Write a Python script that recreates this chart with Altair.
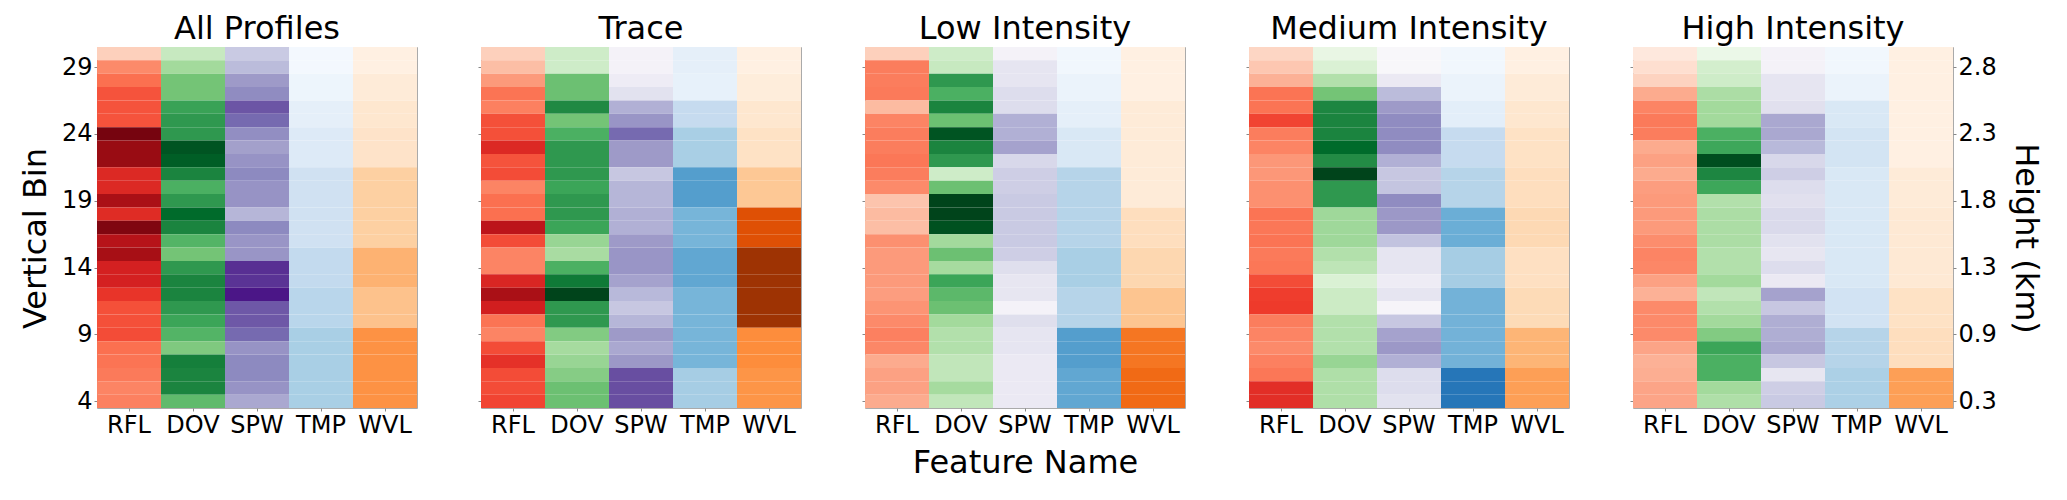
import altair as alt
import pandas as pd

FEATURES = ["RFL", "DOV", "SPW", "TMP", "WVL"]
PANELS = ["All Profiles", "Trace", "Low Intensity", "Medium Intensity", "High Intensity"]
BINS = list(range(30, 3, -1))  # top row (bin 30) to bottom row (bin 4)
Y_TICKS = [4, 9, 14, 19, 24, 29]
HEIGHT_LABELS = ["0.3", "0.9", "1.3", "1.8", "2.3", "2.8"]

# normalised intensities (0..1), listed from bin 30 down to bin 4
ALL_RFL = [0.18, 0.40, 0.48, 0.56, 0.56, 0.56, 0.97, 0.90, 0.90, 0.69, 0.69, 0.86, 0.68, 0.95,
           0.82, 0.87, 0.72, 0.72, 0.65, 0.57, 0.57, 0.58, 0.48, 0.47, 0.45, 0.42, 0.43]
ALL_DOV = [0.25, 0.37, 0.50, 0.50, 0.66, 0.70, 0.70, 0.95, 0.92, 0.78, 0.60, 0.70, 0.88, 0.78,
           0.58, 0.50, 0.70, 0.78, 0.78, 0.70, 0.65, 0.58, 0.47, 0.80, 0.78, 0.78, 0.55]
ALL_SPW = [0.32, 0.38, 0.50, 0.56, 0.74, 0.68, 0.55, 0.48, 0.53, 0.57, 0.53, 0.53, 0.40, 0.57,
           0.52, 0.52, 0.85, 0.84, 0.93, 0.73, 0.73, 0.68, 0.53, 0.57, 0.57, 0.53, 0.45]
ALL_TMP = [0.02, 0.02, 0.05, 0.05, 0.09, 0.09, 0.13, 0.13, 0.13, 0.20, 0.20, 0.20, 0.20, 0.20,
           0.20, 0.26, 0.26, 0.26, 0.29, 0.29, 0.29, 0.34, 0.34, 0.34, 0.34, 0.34, 0.34]
ALL_WVL = [0.04, 0.04, 0.08, 0.08, 0.12, 0.12, 0.14, 0.14, 0.14, 0.25, 0.25, 0.25, 0.25, 0.25,
           0.25, 0.36, 0.36, 0.36, 0.30, 0.30, 0.30, 0.48, 0.48, 0.48, 0.48, 0.48, 0.48]

TRACE_RFL = [0.18, 0.24, 0.35, 0.47, 0.43, 0.57, 0.57, 0.69, 0.56, 0.58, 0.42, 0.48, 0.48, 0.80,
             0.58, 0.42, 0.42, 0.70, 0.86, 0.73, 0.47, 0.42, 0.58, 0.66, 0.58, 0.58, 0.60]
TRACE_DOV = [0.22, 0.22, 0.52, 0.52, 0.76, 0.50, 0.60, 0.70, 0.70, 0.70, 0.65, 0.70, 0.70, 0.65,
             0.40, 0.35, 0.60, 0.82, 1.00, 0.70, 0.70, 0.46, 0.36, 0.40, 0.45, 0.52, 0.52]
TRACE_SPW = [0.08, 0.08, 0.13, 0.20, 0.42, 0.52, 0.68, 0.50, 0.50, 0.33, 0.40, 0.40, 0.42, 0.42,
             0.50, 0.52, 0.52, 0.47, 0.39, 0.33, 0.40, 0.50, 0.45, 0.51, 0.76, 0.76, 0.76]
TRACE_TMP = [0.09, 0.09, 0.08, 0.08, 0.25, 0.25, 0.34, 0.34, 0.34, 0.57, 0.57, 0.57, 0.47, 0.47,
             0.47, 0.53, 0.53, 0.53, 0.47, 0.47, 0.47, 0.47, 0.47, 0.47, 0.35, 0.35, 0.35]
TRACE_WVL = [0.04, 0.04, 0.07, 0.07, 0.12, 0.12, 0.15, 0.15, 0.15, 0.28, 0.28, 0.28, 0.72, 0.72,
             0.72, 0.90, 0.90, 0.90, 0.90, 0.90, 0.90, 0.50, 0.50, 0.50, 0.47, 0.47, 0.47]

LOW_RFL = [0.18, 0.44, 0.44, 0.45, 0.25, 0.42, 0.44, 0.44, 0.46, 0.44, 0.40, 0.22, 0.25, 0.24,
           0.38, 0.35, 0.35, 0.35, 0.34, 0.37, 0.40, 0.43, 0.41, 0.30, 0.33, 0.33, 0.30]
LOW_DOV = [0.22, 0.25, 0.70, 0.60, 0.78, 0.52, 0.95, 0.78, 0.70, 0.22, 0.52, 1.00, 1.00, 0.96,
           0.37, 0.52, 0.36, 0.65, 0.56, 0.52, 0.37, 0.32, 0.32, 0.27, 0.27, 0.36, 0.27]
LOW_SPW = [0.08, 0.18, 0.18, 0.23, 0.23, 0.42, 0.42, 0.47, 0.26, 0.30, 0.30, 0.32, 0.32, 0.32,
           0.32, 0.30, 0.22, 0.17, 0.17, 0.08, 0.22, 0.18, 0.18, 0.15, 0.15, 0.15, 0.15]
LOW_TMP = [0.03, 0.03, 0.06, 0.06, 0.09, 0.09, 0.15, 0.15, 0.15, 0.30, 0.30, 0.30, 0.30, 0.30,
           0.30, 0.34, 0.34, 0.34, 0.30, 0.30, 0.30, 0.57, 0.57, 0.57, 0.53, 0.53, 0.53]
LOW_WVL = [0.04, 0.04, 0.04, 0.04, 0.08, 0.08, 0.08, 0.08, 0.08, 0.08, 0.08, 0.08, 0.17, 0.17,
           0.17, 0.21, 0.21, 0.21, 0.29, 0.29, 0.29, 0.58, 0.58, 0.58, 0.62, 0.62, 0.62]

MED_RFL = [0.16, 0.21, 0.28, 0.47, 0.47, 0.60, 0.44, 0.42, 0.36, 0.36, 0.38, 0.38, 0.47, 0.46,
           0.47, 0.45, 0.46, 0.58, 0.62, 0.63, 0.44, 0.42, 0.40, 0.43, 0.46, 0.67, 0.67]
MED_DOV = [0.10, 0.17, 0.32, 0.50, 0.77, 0.78, 0.78, 0.88, 0.75, 1.00, 0.70, 0.70, 0.38, 0.38,
           0.38, 0.32, 0.28, 0.17, 0.23, 0.23, 0.32, 0.32, 0.32, 0.40, 0.33, 0.33, 0.33]
MED_SPW = [0.04, 0.04, 0.15, 0.38, 0.50, 0.56, 0.56, 0.56, 0.42, 0.33, 0.34, 0.56, 0.51, 0.51,
           0.35, 0.18, 0.18, 0.13, 0.18, 0.06, 0.33, 0.47, 0.51, 0.42, 0.23, 0.23, 0.20]
MED_TMP = [0.03, 0.03, 0.06, 0.06, 0.10, 0.10, 0.25, 0.25, 0.25, 0.30, 0.30, 0.30, 0.50, 0.50,
           0.50, 0.35, 0.35, 0.35, 0.48, 0.48, 0.48, 0.48, 0.48, 0.48, 0.73, 0.73, 0.73]
MED_WVL = [0.04, 0.04, 0.08, 0.08, 0.12, 0.12, 0.15, 0.15, 0.15, 0.17, 0.17, 0.17, 0.20, 0.20,
           0.20, 0.16, 0.16, 0.16, 0.19, 0.19, 0.19, 0.35, 0.35, 0.35, 0.43, 0.43, 0.43]

HIGH_RFL = [0.08, 0.13, 0.17, 0.30, 0.42, 0.45, 0.44, 0.30, 0.33, 0.30, 0.34, 0.35, 0.35, 0.35,
            0.39, 0.42, 0.41, 0.33, 0.28, 0.40, 0.40, 0.40, 0.32, 0.28, 0.29, 0.32, 0.32]
HIGH_DOV = [0.08, 0.20, 0.22, 0.34, 0.37, 0.37, 0.60, 0.64, 0.97, 0.77, 0.64, 0.32, 0.34, 0.34,
            0.34, 0.32, 0.32, 0.37, 0.27, 0.32, 0.37, 0.46, 0.65, 0.60, 0.60, 0.37, 0.33]
HIGH_SPW = [0.08, 0.08, 0.18, 0.18, 0.21, 0.45, 0.45, 0.39, 0.26, 0.30, 0.23, 0.21, 0.25, 0.25,
            0.20, 0.17, 0.23, 0.15, 0.47, 0.33, 0.43, 0.43, 0.45, 0.33, 0.17, 0.30, 0.32]
HIGH_TMP = [0.03, 0.03, 0.06, 0.06, 0.15, 0.15, 0.18, 0.18, 0.18, 0.15, 0.15, 0.15, 0.15, 0.15,
            0.15, 0.15, 0.15, 0.15, 0.19, 0.19, 0.19, 0.30, 0.30, 0.30, 0.33, 0.33, 0.33]
HIGH_WVL = [0.04, 0.04, 0.04, 0.04, 0.04, 0.04, 0.04, 0.04, 0.04, 0.08, 0.08, 0.08, 0.10, 0.10,
            0.10, 0.10, 0.10, 0.10, 0.15, 0.15, 0.15, 0.17, 0.17, 0.17, 0.43, 0.43, 0.43]

PANEL_DATA = [
    [ALL_RFL, ALL_DOV, ALL_SPW, ALL_TMP, ALL_WVL],
    [TRACE_RFL, TRACE_DOV, TRACE_SPW, TRACE_TMP, TRACE_WVL],
    [LOW_RFL, LOW_DOV, LOW_SPW, LOW_TMP, LOW_WVL],
    [MED_RFL, MED_DOV, MED_SPW, MED_TMP, MED_WVL],
    [HIGH_RFL, HIGH_DOV, HIGH_SPW, HIGH_TMP, HIGH_WVL],
]

# sequential colour ramps (ColorBrewer 9-class) per feature column
RAMPS = [
    ["#fff5f0", "#fee0d2", "#fcbba1", "#fc9272", "#fb6a4a", "#ef3b2c", "#cb181d", "#a50f15", "#67000d"],
    ["#f7fcf5", "#e5f5e0", "#c7e9c0", "#a1d99b", "#74c476", "#41ab5d", "#238b45", "#006d2c", "#00441b"],
    ["#fcfbfd", "#efedf5", "#dadaeb", "#bcbddc", "#9e9ac8", "#807dba", "#6a51a3", "#54278f", "#3f007d"],
    ["#f7fbff", "#deebf7", "#c6dbef", "#9ecae1", "#6baed6", "#4292c6", "#2171b5", "#08519c", "#08306b"],
    ["#fff5eb", "#fee6ce", "#fdd0a2", "#fdae6b", "#fd8d3c", "#f16913", "#d94801", "#a63603", "#7f2704"],
]
STOPS = [i / 8 for i in range(9)]

FONT = "DejaVu Sans"
W, H = 320, 361

x_scale = alt.Scale(domain=FEATURES, paddingInner=0, paddingOuter=0)
y_scale = alt.Scale(domain=[3.5, 30.5], nice=False, zero=False)
height_expr = "[" + ",".join("'%s'" % s for s in HEIGHT_LABELS) + "][(datum.value - 4) / 5]"


def panel(idx):
    last = idx == len(PANELS) - 1
    x_axis = alt.Axis(title="Feature Name" if idx == 2 else None, labelAngle=0, titlePadding=10)
    y_left = alt.Axis(values=Y_TICKS, title="Vertical Bin" if idx == 0 else None,
                      labels=(idx == 0), titlePadding=9, titleY=191)
    layers = []
    for j, feat in enumerate(FEATURES):
        df = pd.DataFrame({"feature": feat, "bin": BINS, "value": PANEL_DATA[idx][j]})
        if last and j > 0:
            y_axis = None
        else:
            y_axis = y_left
        layer = (
            alt.Chart(df)
            .transform_calculate(lo="datum.bin - 0.5", hi="datum.bin + 0.5")
            .mark_rect()
            .encode(
                x=alt.X("feature:N", scale=x_scale, axis=x_axis),
                y=alt.Y("lo:Q", scale=y_scale, axis=y_axis),
                y2="hi:Q",
                color=alt.Color("value:Q",
                                scale=alt.Scale(domain=STOPS, range=RAMPS[j], interpolate="rgb"),
                                legend=None),
            )
        )
        layers.append(layer)
    if last:
        df = pd.DataFrame({"feature": FEATURES[0], "bin": BINS, "value": PANEL_DATA[idx][0]})
        right = (
            alt.Chart(df)
            .transform_calculate(lo="datum.bin - 0.5", hi="datum.bin + 0.5")
            .mark_rect(opacity=0)
            .encode(
                x=alt.X("feature:N", scale=x_scale, axis=x_axis),
                y=alt.Y("lo:Q", scale=y_scale,
                        axis=alt.Axis(orient="right", values=Y_TICKS, labelExpr=height_expr,
                                      title="Height (km)", titlePadding=12, titleY=191)),
                y2="hi:Q",
            )
        )
        layers.append(right)
    ch = alt.layer(*layers).properties(width=W, height=H, title=PANELS[idx])
    ch = ch.resolve_scale(color="independent")
    if last:
        ch = ch.resolve_axis(y="independent")
    return ch


chart = (
    alt.hconcat(*[panel(i) for i in range(len(PANELS))], spacing=59)
    .properties(padding={"left": 10, "top": 4, "right": 5, "bottom": 5})
    .configure_view(stroke="#aaaaaa", strokeWidth=1)
    .configure_axis(
        labelFont=FONT, titleFont=FONT, labelFontSize=24, titleFontSize=32,
        titleFontWeight="normal", labelColor="black", titleColor="black",
        domain=False, grid=False, tickSize=3, tickColor="#888888", labelPadding=2,
    )
    .configure_title(font=FONT, fontSize=32, fontWeight="normal", color="black", offset=1)
)

chart.save("out.html", embed_options={"renderer": "svg", "actions": False})
